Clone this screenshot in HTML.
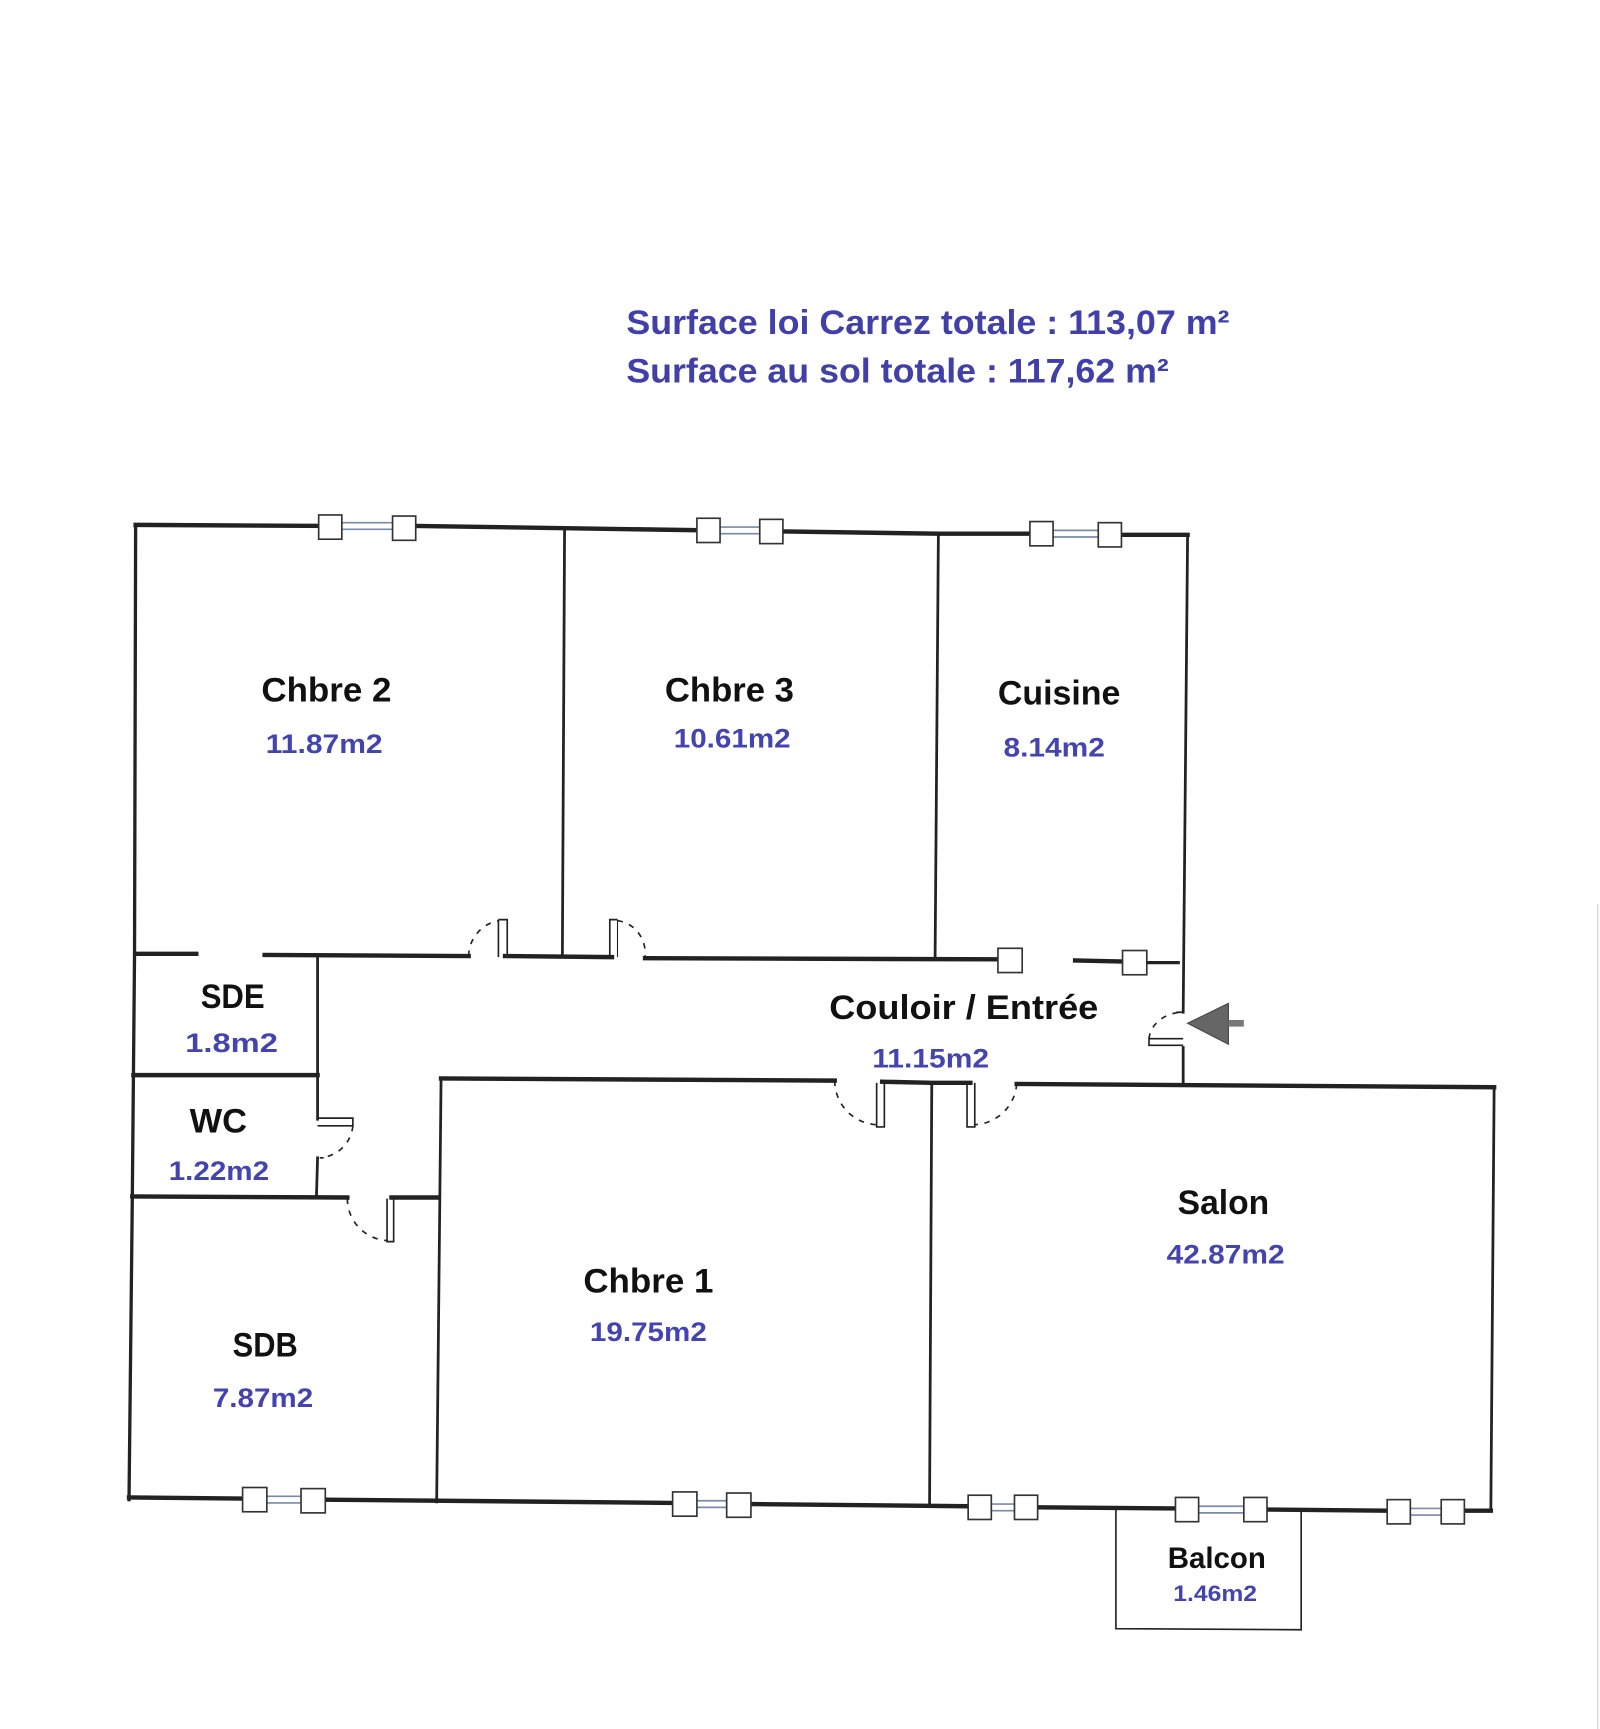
<!DOCTYPE html>
<html><head><meta charset="utf-8"><style>html,body{margin:0;padding:0;background:#fff}svg{display:block}</style></head>
<body>
<svg width="1600" height="1729" viewBox="0 0 1451 1568" preserveAspectRatio="none" xmlns="http://www.w3.org/2000/svg" font-family="Liberation Sans, sans-serif" font-weight="bold">
<rect width="1451" height="1568" fill="#fff"/>
<g fill="#4040a8">
<text x="568" y="303" font-size="31" textLength="547" lengthAdjust="spacingAndGlyphs">Surface loi Carrez totale : 113,07 m²</text>
<text x="568" y="347" font-size="31" textLength="492" lengthAdjust="spacingAndGlyphs">Surface au sol totale : 117,62 m²</text>
</g>
<g stroke="#222" fill="none" stroke-linecap="square">
<!-- top wall -->
<path d="M123 476 L300 477 M378 477 L512 479 L643 481 M712 482 L851 484 L945 484 M1017 485 L1077 485" stroke-width="4"/>
<!-- outer left -->
<path d="M123 476 L122 866 M122 866 L120 1085 L117 1360" stroke-width="3"/>
<!-- right of upper -->
<path d="M1077 485 L1073 918 M1073 950 L1073 983" stroke-width="2.5"/>
<!-- dividers -->
<path d="M512 479 L510 867 M851 484 L848 870" stroke-width="2.5"/>
<!-- corridor top -->
<path d="M123 865 L178 865 M240 866 L425 867 M458 867 L555 868 M585 869 L905 870 M975 871 L1018 872" stroke-width="4"/>
<!-- SDE right wall -->
<path d="M288 868 L288 1015 M288 1050 L287 1085" stroke-width="2.5"/>
<!-- SDE/WC & WC/SDB -->
<path d="M121 975 L288 975" stroke-width="4"/>
<path d="M120 1085 L315 1086 M355 1086 L397 1086" stroke-width="4"/>
<!-- Chbre1 -->
<path d="M400 978 L757 980 M800 981 L845 982 L880 982 M922 983 L1355 986" stroke-width="4"/>
<path d="M400 978 L396 1362" stroke-width="2.5"/>
<path d="M845 982 L843 1365" stroke-width="2.5"/>
<path d="M1355 986 L1352 1370" stroke-width="2.5"/>
<!-- bottom -->
<path d="M117 1358 L220 1359 M295 1360 L610 1363 M682 1364 L878 1366 M942 1367 L1066 1368 M1150 1369 L1258 1370 M1328 1370 L1352 1370" stroke-width="4"/>
<!-- balcony -->
<path d="M1012 1370 L1012 1477 L1180 1478 L1180 1370" stroke-width="1.5"/>
</g>
<!-- windows -->
<g stroke="#333" stroke-width="1.5" fill="#fff">
<g id="w"></g>
<line x1="310" y1="474" x2="360" y2="474" stroke="#7a8aa8"/><line x1="310" y1="480" x2="360" y2="480" stroke="#7a8aa8"/>
<rect x="289" y="467" width="21" height="22"/><rect x="356" y="468" width="21" height="22"/>
<line x1="652" y1="478" x2="690" y2="478" stroke="#7a8aa8"/><line x1="652" y1="484" x2="690" y2="484" stroke="#7a8aa8"/>
<rect x="632" y="470" width="21" height="22"/><rect x="689" y="471" width="21" height="22"/>
<line x1="955" y1="481" x2="996" y2="481" stroke="#7a8aa8"/><line x1="955" y1="487" x2="996" y2="487" stroke="#7a8aa8"/>
<rect x="934" y="473" width="21" height="22"/><rect x="996" y="474" width="21" height="22"/>
<rect x="905" y="860" width="22" height="22"/><rect x="1018" y="862" width="22" height="22"/>
<line x1="1040" y1="873" x2="1070" y2="873" stroke="#222" stroke-width="3"/>
<line x1="242" y1="1357" x2="273" y2="1357" stroke="#7a8aa8"/><line x1="242" y1="1363" x2="273" y2="1363" stroke="#7a8aa8"/>
<rect x="220" y="1349" width="22" height="22"/><rect x="273" y="1350" width="22" height="22"/>
<line x1="632" y1="1361" x2="660" y2="1361" stroke="#7a8aa8"/><line x1="632" y1="1367" x2="660" y2="1367" stroke="#7a8aa8"/>
<rect x="610" y="1353" width="22" height="22"/><rect x="659" y="1354" width="22" height="22"/>
<line x1="899" y1="1364" x2="920" y2="1364" stroke="#7a8aa8"/><line x1="899" y1="1370" x2="920" y2="1370" stroke="#7a8aa8"/>
<rect x="878" y="1356" width="21" height="22"/><rect x="920" y="1356" width="21" height="22"/>
<line x1="1087" y1="1366" x2="1128" y2="1366" stroke="#7a8aa8"/><line x1="1087" y1="1372" x2="1128" y2="1372" stroke="#7a8aa8"/>
<rect x="1066" y="1358" width="21" height="22"/><rect x="1128" y="1358" width="21" height="22"/>
<line x1="1279" y1="1368" x2="1307" y2="1368" stroke="#7a8aa8"/><line x1="1279" y1="1374" x2="1307" y2="1374" stroke="#7a8aa8"/>
<rect x="1258" y="1360" width="21" height="22"/><rect x="1307" y="1360" width="21" height="22"/>
</g>
<!-- doors -->
<g fill="none" stroke="#222">
<path d="M452 834 L460 834 L460 868 M452 834 L452 868" stroke-width="1.5"/>
<path d="M425 867 A33 33 0 0 1 452 835" stroke-dasharray="5 6" stroke-width="1.5"/>
<path d="M553 868 L553 834 L560 834" stroke-width="1.5"/><path d="M560 834 L560 868" stroke-width="1"/>
<path d="M560 835 A28 30 0 0 1 585 868" stroke-dasharray="5 6" stroke-width="1.5"/>
<path d="M795 982 L795 1022 L802 1022 L802 982" stroke-width="1.5"/>
<path d="M757 980 A40 40 0 0 0 795 1020" stroke-dasharray="5 6" stroke-width="1.5"/>
<path d="M877 982 L877 1022 L884 1022 L884 982" stroke-width="1.5"/>
<path d="M922 983 A40 40 0 0 1 884 1020" stroke-dasharray="5 6" stroke-width="1.5"/>
<path d="M288 1014 L320 1014 L320 1021 L288 1021" stroke-width="1.5"/>
<path d="M320 1021 A32 32 0 0 1 290 1050 L296 1050" stroke-dasharray="5 6" stroke-width="1.5"/>
<path d="M351 1087 L351 1126 L357 1126 L357 1087" stroke-width="1.5"/>
<path d="M315 1087 A38 38 0 0 0 351 1125" stroke-dasharray="5 6" stroke-width="1.5"/>
<path d="M1073 942 L1042 942 L1042 948 L1073 948" stroke-width="1.5"/>
<path d="M1042 942 A31 26 0 0 1 1073 918 L1062 918" stroke-dasharray="5 6" stroke-width="1.5"/>
</g>
<polygon points="1077,928 1114,910 1114,947" fill="#666" stroke="#444" stroke-width="1"/>
<rect x="1114" y="925" width="14" height="6" fill="#777"/>
<!-- labels -->
<g fill="#111" font-size="31">
<text x="237" y="636" textLength="118" lengthAdjust="spacingAndGlyphs">Chbre 2</text>
<text x="603" y="636" textLength="117" lengthAdjust="spacingAndGlyphs">Chbre 3</text>
<text x="905" y="639" textLength="111" lengthAdjust="spacingAndGlyphs">Cuisine</text>
<text x="182" y="914" textLength="58" lengthAdjust="spacingAndGlyphs">SDE</text>
<text x="752" y="924" textLength="244" lengthAdjust="spacingAndGlyphs">Couloir / Entrée</text>
<text x="172" y="1027" textLength="52" lengthAdjust="spacingAndGlyphs">WC</text>
<text x="1068" y="1101" textLength="83" lengthAdjust="spacingAndGlyphs">Salon</text>
<text x="529" y="1172" textLength="118" lengthAdjust="spacingAndGlyphs">Chbre 1</text>
<text x="211" y="1230" textLength="59" lengthAdjust="spacingAndGlyphs">SDB</text>
<text x="1059" y="1422" font-size="27" textLength="89" lengthAdjust="spacingAndGlyphs">Balcon</text>
</g>
<g fill="#4444b0" font-size="24">
<text x="241" y="683" textLength="106" lengthAdjust="spacingAndGlyphs">11.87m2</text>
<text x="611" y="678" textLength="106" lengthAdjust="spacingAndGlyphs">10.61m2</text>
<text x="910" y="686" textLength="92" lengthAdjust="spacingAndGlyphs">8.14m2</text>
<text x="168" y="954" textLength="84" lengthAdjust="spacingAndGlyphs">1.8m2</text>
<text x="791" y="968" textLength="106" lengthAdjust="spacingAndGlyphs">11.15m2</text>
<text x="153" y="1070" textLength="91" lengthAdjust="spacingAndGlyphs">1.22m2</text>
<text x="1058" y="1146" textLength="107" lengthAdjust="spacingAndGlyphs">42.87m2</text>
<text x="535" y="1216" textLength="106" lengthAdjust="spacingAndGlyphs">19.75m2</text>
<text x="193" y="1276" textLength="91" lengthAdjust="spacingAndGlyphs">7.87m2</text>
<text x="1064" y="1452" font-size="20" textLength="76" lengthAdjust="spacingAndGlyphs">1.46m2</text>
</g>
<line x1="1449" y1="820" x2="1449" y2="1568" stroke="#ccc" stroke-width="1"/>
</svg>
</body></html>
